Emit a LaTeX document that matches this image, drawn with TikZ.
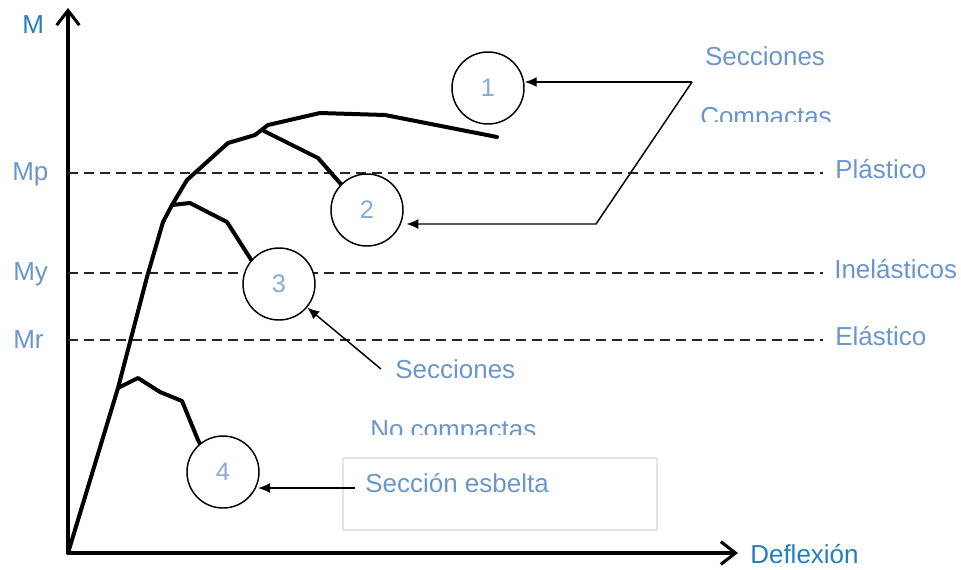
\documentclass[tikz,border=0pt]{standalone}
\usepackage{fontspec}
\setmainfont{Liberation Sans}
\usetikzlibrary{arrows.meta}
\definecolor{lblue}{RGB}{105,150,205}
\definecolor{axblue}{RGB}{35,125,190}
\definecolor{nblue}{RGB}{135,170,215}
\begin{document}
\begin{tikzpicture}[x=0.75pt,y=-0.75pt,
  lbl/.style={text=lblue,font=\fontsize{19.5}{22}\selectfont,inner sep=0pt},
  axlbl/.style={text=axblue,font=\fontsize{19.5}{22}\selectfont,inner sep=0pt},
  numc/.style={circle,draw=black,line width=1.1pt,fill=white,minimum size=54pt,inner sep=0pt,
    text=nblue,font=\fontsize{19}{22}\selectfont},
  axisline/.style={line width=2.3pt,-{Straight Barb[length=11pt,width=17pt,line width=2.3pt]}},
  curveline/.style={line width=3pt,line join=round,line cap=round},
  levelline/.style={line width=1.1pt,draw=black!85,dash pattern=on 7.5pt off 4.5pt},
  ptr/.style={line width=1.1pt,-{Latex[length=9pt,width=7.5pt]}}]
\useasboundingbox (0,0) rectangle (961,569);
% axes
\coordinate (O) at (68,553);
\coordinate (ytop) at (68,8);
\coordinate (xend) at (738,553);
\draw[axisline] (O) -- (ytop);
\draw[axisline] (O) -- (xend);
\node[axlbl,anchor=base west] (Mlab) at (22,33) {M};
\node[axlbl,anchor=base west] (Dlab) at (750,563) {Deflexión};
% levels
\node[lbl,anchor=base west] (Mp) at (12,180) {Mp};
\node[lbl,anchor=base west] (My) at (13,280) {My};
\node[lbl,anchor=base west] (Mr) at (13,348) {Mr};
\node[lbl,anchor=base west] (pl) at (835,178) {Plástico};
\node[lbl,anchor=base west] (inel) at (834,278) {Inelásticos};
\node[lbl,anchor=base west] (el) at (835,345) {Elástico};
\draw[levelline] (68,173) -- (823,173);
\draw[levelline] (68,273) -- (823,273);
\draw[levelline] (68,340) -- (823,340);
% curves
\draw[curveline] (O) -- (118,388) -- (147,277) -- (163,222) -- (172,205) -- (187,180) -- (228,143)
  -- (255,135) -- (268,125) -- (320,113) -- (385,115) -- (497,137);
\draw[curveline] (262,130) -- (318,158) -- (340,183) -- (352,198);
\draw[curveline] (172,205) -- (190,203) -- (227,222) -- (250,258) -- (258,270);
\draw[curveline] (118,388) -- (138,378) -- (160,392) -- (182,401) -- (198,440) -- (204,452);
% circles
\node[numc] (c1) at (488,88) {1};
\node[numc] (c2) at (367,210) {2};
\node[numc] (c3) at (279,284) {3};
\node[numc] (c4) at (223,472) {4};
% compact sections
\node[lbl,anchor=base] (sec1) at (765,65) {Secciones};
\begin{scope}
  \clip (680,95) rectangle (860,121);
  \node[lbl,anchor=base] (comp1) at (766,125) {Compactas};
\end{scope}
\coordinate (k1) at (692,82);
\coordinate (k2) at (596,224);
\draw[ptr] (k1) -- (k1 -| c1.east);
\draw[ptr] (k1) -- (k2) -- ([xshift=2pt]k2 -| c2.east);
% non compact sections
\node[lbl,anchor=base west] (sec2) at (395,378) {Secciones};
\begin{scope}
  \clip (350,405) rectangle (560,434);
  \node[lbl,anchor=base west] (comp2) at (370,438) {No compactas};
\end{scope}
\coordinate (k3) at (381,369);
\draw[ptr] (k3) -- (c3);
% slender section
\node[draw=black!10,line width=0.8pt,minimum width=235.5pt,minimum height=54pt,inner sep=0pt] (box) at (500,494) {};
\node[lbl,anchor=base west] (esb) at (365,492) {Sección esbelta};
\coordinate (k4) at (355,488);
\draw[ptr] (k4) -- ([shift={(35,16)}]c4.center);
\end{tikzpicture}
\end{document}
